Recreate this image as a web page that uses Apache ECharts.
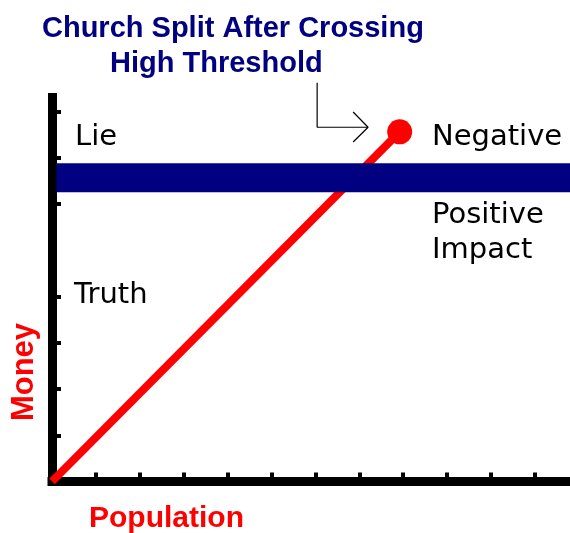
<!DOCTYPE html>
<html>
<head>
<meta charset="utf-8">
<title>Church Split After Crossing High Threshold</title>
<script src="https://cdn.jsdelivr.net/npm/echarts@6/dist/echarts.min.js"></script>
<style>
    html, body { margin: 0; padding: 0; background: #fff; }
    #chart { width: 570px; height: 533px; }
</style>
</head>
<body>
<div id="chart"></div>
<script>
// Population (x) vs Money (y), both in tick units
const growthLine = [[0, 0], [7.92, 7.56]];
const thresholdLevel = 6.57;
const thresholdSpan = [0.1, 11.8];
const xTicks = [1, 2, 3, 4, 5, 6, 7, 8, 9, 10, 11];
const yTicks = [1, 2, 3, 4, 6, 7, 8];   // the reference skips the 5th tick
// callout arrow from the title to the split point
const arrowPath = [[6.04, 8.62], [6.04, 7.66], [7.2, 7.66]];
const arrowHead = [[6.86, 7.99], [7.2, 7.66], [6.86, 7.34]];

const RED = '#ff0000';
const NAVY = '#000080';
const FONT = 'DejaVu Sans';

function makeChart() {
    const chartDom = document.getElementById('chart');
    const myChart = echarts.init(chartDom, null, { renderer: 'canvas' });

    const thresholdData = thresholdSpan.map(x => [x, thresholdLevel]);

    const option = {
        backgroundColor: '#ffffff',
        animation: false,
        grid: { left: 52, right: 0, top: 93, bottom: 51.5 },
        xAxis: {
            type: 'value',
            min: 0,
            max: 11.8,
            axisLine: { show: true, lineStyle: { color: '#000', width: 9, cap: 'square' } },
            axisTick: {
                show: true,
                inside: true,
                length: 9,
                customValues: xTicks,
                lineStyle: { color: '#000', width: 4 }
            },
            axisLabel: { show: false },
            splitLine: { show: false }
        },
        yAxis: {
            type: 'value',
            min: 0,
            max: 8.4,
            axisLine: { show: true, lineStyle: { color: '#000', width: 9, cap: 'butt' } },
            axisTick: {
                show: true,
                inside: true,
                length: 9,
                customValues: yTicks,
                lineStyle: { color: '#000', width: 4 }
            },
            axisLabel: { show: false },
            splitLine: { show: false }
        },
        series: [
            {
                name: 'Growth',
                type: 'line',
                data: growthLine,
                z: 3,
                lineStyle: { color: RED, width: 8 },
                symbol: 'circle',
                symbolSize: (val, params) => params.dataIndex === growthLine.length - 1 ? 25 : 0,
                itemStyle: { color: RED },
                silent: true
            },
            {
                name: 'Threshold',
                type: 'line',
                data: thresholdData,
                z: 4,
                lineStyle: { color: NAVY, width: 29, cap: 'butt' },
                symbol: 'none',
                silent: true
            },
            {
                name: 'Callout',
                type: 'line',
                data: arrowPath,
                clip: false,
                z: 5,
                lineStyle: { color: '#000', width: 1.2 },
                symbol: 'none',
                silent: true
            },
            {
                name: 'CalloutHead',
                type: 'line',
                data: arrowHead,
                clip: false,
                z: 5,
                lineStyle: { color: '#000', width: 1.2 },
                symbol: 'none',
                silent: true
            }
        ],
        graphic: [
            {
                type: 'text', left: 42, top: 14, z: 10,
                style: { text: 'Church Split After Crossing', fill: NAVY, font: 'bold 29px "Liberation Sans", Arial, sans-serif' }
            },
            {
                type: 'text', left: 110, top: 49, z: 10,
                style: { text: 'High Threshold', fill: NAVY, font: 'bold 29px "Liberation Sans", Arial, sans-serif' }
            },
            {
                type: 'text', left: 75, top: 123, z: 10,
                style: { text: 'Lie', fill: '#000', font: `29px "${FONT}"` }
            },
            {
                type: 'text', left: 432, top: 123, z: 10,
                style: { text: 'Negative', fill: '#000', font: `29px "${FONT}"` }
            },
            {
                type: 'text', left: 432, top: 201, z: 10,
                style: { text: 'Positive', fill: '#000', font: `29px "${FONT}"` }
            },
            {
                type: 'text', left: 432, top: 236, z: 10,
                style: { text: 'Impact', fill: '#000', font: `29px "${FONT}"` }
            },
            {
                type: 'text', left: 74, top: 281, z: 10,
                style: { text: 'Truth', fill: '#000', font: `29px "${FONT}"` }
            },
            {
                type: 'text', left: 89, top: 504, z: 10,
                style: { text: 'Population', fill: RED, font: 'bold 30px "Liberation Sans", Arial, sans-serif' }
            },
            {
                type: 'text', x: 24, y: 372, rotation: Math.PI / 2, z: 10,
                style: {
                    text: 'Money', fill: RED,
                    font: 'bold 31px "Liberation Sans", Arial, sans-serif',
                    align: 'center', verticalAlign: 'middle'
                }
            }
        ]
    };

    myChart.setOption(option);
}

makeChart();
</script>
</body>
</html>
